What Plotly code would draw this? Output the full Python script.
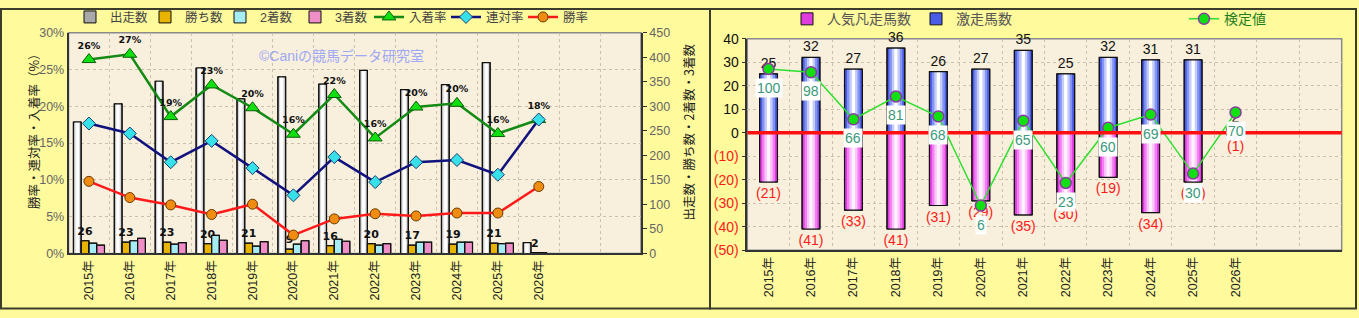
import plotly.graph_objects as go

# ---------------- data ----------------
years = ["2015年", "2016年", "2017年", "2018年", "2019年", "2020年",
         "2021年", "2022年", "2023年", "2024年", "2025年", "2026年"]

runs = [268, 305, 351, 378, 315, 360, 345, 373, 334, 344, 389, 22]      # 出走数
wins = [26, 23, 23, 20, 21, 9, 16, 20, 17, 19, 21, 2]                    # 勝ち数
seconds = [21, 26, 19, 37, 15, 19, 29, 17, 23, 23, 20, 2]                # 2着数
thirds = [17, 31, 22, 27, 24, 26, 25, 20, 23, 23, 21, 0]                 # 3着数

place_rate = [26.35, 27.07, 18.6, 22.9, 19.8, 16.2, 21.6, 15.7, 19.9, 20.4, 16.3, 18.2]   # 入着率
quinella_rate = [17.66, 16.3, 12.4, 15.3, 11.6, 7.9, 13.1, 9.7, 12.4, 12.7, 10.7, 18.2]  # 連対率
win_rate = [9.8, 7.6, 6.6, 5.3, 6.7, 2.5, 4.7, 5.4, 5.1, 5.5, 5.5, 9.1]                  # 勝率

gekisou = [25, 32, 27, 36, 26, 27, 35, 25, 32, 31, 31, 2]      # 激走馬数
bonsou = [21, 41, 33, 41, 31, 29, 35, 30, 19, 34, 21, 1]       # 人気凡走馬数
kentei = [100, 98, 66, 81, 68, 6, 65, 23, 60, 69, 30, 70]      # 検定値 (labels)
kentei_pos = [27.1, 25.7, 5.7, 15.4, 6.9, -31.0, 5.1, -21.4, 2.1, 7.7, -17.4, 8.6]  # plotted height

left_ticks = [0, 5, 10, 15, 20, 25, 30]
right_ticks = [0, 50, 100, 150, 200, 250, 300, 350, 400, 450]
r_ticks = [-50, -40, -30, -20, -10, 0, 10, 20, 30, 40]

# ---------------- layout helpers ----------------
W, H = 1359, 318
LX = [68.5 / W, 641 / W]
LY = [1 - 258.5 / H, 1 - 26 / H]
RX = [747.3 / W, 1341.7 / W]
RY = [1 - 255 / H, 1 - 32.3 / H]

xi = list(range(len(years)))
JP = "Liberation Sans, Noto Sans CJK JP"

fig = go.Figure()


def layered_bar(values, center, width, colors, xa, ya, name, legend,
                showlegend=True, text_kw=None):
    fracs = [1.0, 0.72, 0.45, 0.18][:len(colors)]
    for k, (f, c) in enumerate(zip(fracs, colors)):
        w = width * f
        fig.add_trace(go.Bar(
            x=xi, y=values, width=w, offset=center - w / 2,
            marker=dict(color=c, line=dict(color="#111", width=1 if k == 0 else 0)),
            name=name, legend=legend, showlegend=(showlegend and k == 0),
            legendgroup=name, xaxis=xa, yaxis=ya, hoverinfo="skip"))
    kw = dict(text_kw or {})
    fig.add_trace(go.Bar(
        x=xi, y=values, width=width, offset=center - width / 2,
        marker=dict(color="rgba(0,0,0,0)", line=dict(color="#111", width=1.2)),
        name=name, legend=legend, showlegend=False, legendgroup=name,
        xaxis=xa, yaxis=ya, cliponaxis=False, constraintext="none", **kw))


# ---- left chart bars (counts, primary y on right side) ----
bw = 0.19
layered_bar(runs, -0.285, bw, ["#a9a9a9", "#d9d9d9", "#f4f4f4", "#ffffff"], "x", "y", "出走数", "legend")
layered_bar(wins, -0.095, bw, ["#e8b400"], "x", "y", "勝ち数", "legend",
            text_kw=dict(text=[str(v) for v in wins], textposition="outside",
                         outsidetextfont=dict(size=11, color="#111", family="DejaVu Sans"),
                         texttemplate="<b>%{text}</b>"))
layered_bar(seconds, 0.095, bw, ["#a6ecf4"], "x", "y", "2着数", "legend")
layered_bar(thirds, 0.285, bw, ["#f08ec8"], "x", "y", "3着数", "legend")

# ---- left chart lines (rates, overlaying y2 on left side) ----
fig.add_trace(go.Scatter(
    x=xi, y=place_rate, name="入着率", legend="legend4", xaxis="x", yaxis="y2",
    mode="lines+markers+text", line=dict(color="#138a13", width=2.5),
    marker=dict(symbol="triangle-up", size=12, color="#10e010", line=dict(color="#0b5e0b", width=1)),
    text=["%d%%" % round(v) for v in place_rate], textposition="top center",
    textfont=dict(size=9.5, color="#111", family="DejaVu Sans"), texttemplate="<b>%{text}</b>",
    cliponaxis=False))
fig.add_trace(go.Scatter(
    x=xi, y=quinella_rate, name="連対率", legend="legend4", xaxis="x", yaxis="y2",
    mode="lines+markers", line=dict(color="#12127e", width=2.5),
    marker=dict(symbol="diamond", size=10, color="#38e0ea", line=dict(color="#1a4070", width=1))))
fig.add_trace(go.Scatter(
    x=xi, y=win_rate, name="勝率", legend="legend4", xaxis="x", yaxis="y2",
    mode="lines+markers", line=dict(color="#ff1a1a", width=2.5),
    marker=dict(symbol="circle", size=10, color="#f08c10", line=dict(color="#6b3a00", width=1))))

# ---- right chart bars ----
rw = 0.42
layered_bar([-v for v in bonsou], 0.0, rw, ["#e03ce0", "#f27ef2", "#fbc4fb", "#fff2ff"], "x2", "y3",
            "人気凡走馬数", "legend2",
            text_kw=dict(customdata=bonsou, texttemplate="(%{customdata})", textposition="outside",
                         outsidetextfont=dict(size=14, color="#ff1a1a", family=JP)))
layered_bar(gekisou, 0.0, rw, ["#4a5ce8", "#8494f2", "#c4ccfa", "#ffffff"], "x2", "y3",
            "激走馬数", "legend2",
            text_kw=dict(texttemplate="%{y}", textposition="outside",
                         outsidetextfont=dict(size=14, color="#111", family=JP)))

fig.add_trace(go.Scatter(
    x=xi, y=kentei_pos, name="検定値", legend="legend3", xaxis="x2", yaxis="y3",
    mode="lines+markers", line=dict(color="#2ee02e", width=1.5),
    marker=dict(symbol="circle", size=11, color="#10e010", line=dict(color="#8a3aa0", width=1.5)),
    customdata=kentei, hoverinfo="skip", cliponaxis=False))

annotations = []
for i, (v, p) in enumerate(zip(kentei, kentei_pos)):
    annotations.append(dict(x=i, y=p, xref="x2", yref="y3", text=str(v), showarrow=False,
                            yshift=-19, bgcolor="#ffffff", borderpad=1,
                            font=dict(size=14, color="#3a9a7a", family=JP)))

# watermark & axis titles
annotations.append(dict(x=257 / W, y=1 - 40 / H, xref="paper", yref="paper",
                        text="©Caniの競馬データ研究室", showarrow=False,
                        font=dict(size=14, color="#9ea8f4", family=JP)))
annotations.append(dict(x=22 / W, y=1 - 127 / H, xref="paper", yref="paper",
                        text="勝率・連対率・入着率（%）", textangle=-90, showarrow=False,
                        font=dict(size=12.5, color="#222", family="Noto Sans CJK JP")))
annotations.append(dict(x=688 / W, y=1 - 130 / H, xref="paper", yref="paper",
                        text="出走数・勝ち数・2着数・3着数", textangle=-90, showarrow=False,
                        font=dict(size=12.5, color="#222", family="Noto Sans CJK JP")))

shapes = [
    # panel frames
    dict(type="rect", xref="paper", yref="paper", x0=1 / W, x1=710 / W, y0=1 - 316.5 / H, y1=1 - 1 / H,
         line=dict(color="#3c3c2c", width=2), layer="below"),
    dict(type="rect", xref="paper", yref="paper", x0=710 / W, x1=1356 / W, y0=1 - 316.5 / H, y1=1 - 1 / H,
         line=dict(color="#3c3c2c", width=2), layer="below"),
    # plot area borders
    dict(type="rect", xref="x domain", yref="y domain", x0=0, x1=1, y0=0, y1=1,
         line=dict(color="#8a8a8a", width=1.5), layer="below"),
    dict(type="rect", xref="x2 domain", yref="y3 domain", x0=0, x1=1, y0=0, y1=1,
         line=dict(color="#8a8a8a", width=1.5), layer="below"),
    # red zero line
    dict(type="line", xref="x2 domain", yref="y3", x0=0, x1=1, y0=0, y1=0,
         line=dict(color="#ff1010", width=3.5), layer="above"),
]

grid = "#cbc2ae"
xcommon = dict(range=[-0.5, 13.5], tickvals=xi, ticktext=years, tickangle=-90,
               showgrid=False, zeroline=False, ticks="", showline=True, linecolor="#333", linewidth=1.5,
               minor=dict(tickmode="linear", tick0=0.5, dtick=1, showgrid=True, griddash="dot",
                          gridcolor=grid, gridwidth=1),
               tickfont=dict(size=12.5, color="#222", family=JP), fixedrange=True)

leg_common = dict(orientation="h", xanchor="left", yanchor="top", bgcolor="rgba(0,0,0,0)",
                  itemwidth=30, traceorder="normal")

fig.update_layout(
    width=W, height=H, margin=dict(l=0, r=0, t=0, b=0),
    paper_bgcolor="#fffa9c", plot_bgcolor="#f8efdc",
    barmode="overlay", showlegend=True,
    font=dict(family=JP, size=12, color="#555"),
    xaxis=dict(domain=LX, anchor="y", **xcommon),
    yaxis=dict(domain=LY, anchor="x", side="right", range=[0, 450], tickvals=right_ticks,
               showgrid=False, zeroline=False, showline=True, linecolor="#333", linewidth=1.5,
               ticks="outside", ticklen=4, tickcolor="#333",
               tickfont=dict(size=12.5, color="#666", family=JP)),
    yaxis2=dict(overlaying="y", anchor="x", side="left", range=[0, 30], tickvals=left_ticks,
                ticktext=["%d%%" % t for t in left_ticks],
                showgrid=True, griddash="dot", gridcolor=grid, zeroline=False,
                showline=True, linecolor="#333", linewidth=1.5, ticks="",
                tickfont=dict(size=12.5, color="#666", family=JP)),
    xaxis2=dict(domain=RX, anchor="y3", **xcommon),
    yaxis3=dict(domain=RY, anchor="x2", range=[-50, 40], tickvals=r_ticks,
                ticktext=[("<span style='color:#ff1a1a'>(%d)</span>" % -t) if t < 0 else str(t) for t in r_ticks],
                showgrid=True, griddash="dot", gridcolor=grid, zeroline=False,
                showline=True, linecolor="#333", linewidth=1.5, ticks="outside", ticklen=4, tickcolor="#333",
                tickfont=dict(size=14, color="#111", family=JP)),
    legend=dict(x=70 / W, y=1 + 6 / H, entrywidth=30, entrywidthmode="pixels",
                font=dict(size=12.5, color="#444", family=JP), **leg_common),
    legend4=dict(x=369 / W, y=1 + 6 / H, entrywidth=32, entrywidthmode="pixels",
                 font=dict(size=12.5, color="#444", family=JP), **leg_common),
    legend2=dict(x=787 / W, y=1 + 5 / H, font=dict(size=14, color="#555", family=JP), **leg_common),
    legend3=dict(x=1184 / W, y=1 + 5 / H, font=dict(size=14, color="#1e7e1e", family=JP), **leg_common),
    annotations=annotations, shapes=shapes,
)

fig.write_html("out.html")
